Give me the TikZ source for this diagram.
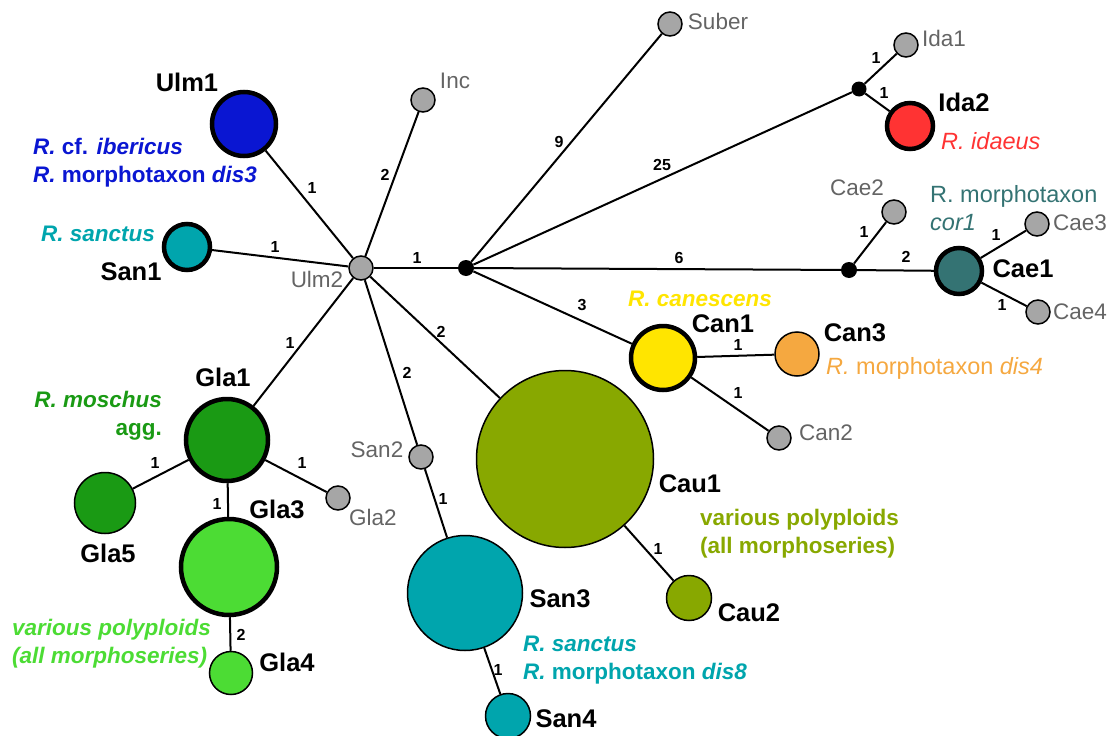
\documentclass[tikz,border=0pt]{standalone}
\usepackage{fontspec}
\setmainfont{Liberation Sans}
\usetikzlibrary{positioning}
\definecolor{ulmblue}{RGB}{10,22,210}
\definecolor{santeal}{RGB}{0,165,173}
\definecolor{idared}{RGB}{255,51,51}
\definecolor{caeteal}{RGB}{52,115,115}
\definecolor{canyellow}{RGB}{255,229,0}
\definecolor{canorange}{RGB}{245,168,64}
\definecolor{gladark}{RGB}{26,154,20}
\definecolor{glalight}{RGB}{76,220,52}
\definecolor{cauolive}{RGB}{136,168,0}
\definecolor{raregray}{RGB}{166,166,166}
\definecolor{labelgray}{RGB}{100,100,100}

\begin{document}
\begin{tikzpicture}[x=1pt,y=-1pt,inner sep=0pt]
\tikzstyle{hap}=[circle, draw=black, line width=1.5pt]
\tikzstyle{main}=[hap, line width=4.5pt]
\tikzstyle{rare}=[hap, fill=raregray, minimum size=24pt]
\tikzstyle{miss}=[circle, fill=black, minimum size=16pt]
\tikzstyle{connect}=[line width=2pt]
\tikzstyle{wt}=[font=\fontsize{16}{18}\selectfont\bfseries]
\tikzstyle{hname}=[anchor=base, font=\fontsize{25.5}{30}\selectfont\bfseries]
\tikzstyle{gname}=[anchor=base, text=labelgray, font=\fontsize{22.5}{27}\selectfont]
\tikzstyle{taxon}=[anchor=base west, align=left, font=\fontsize{22.5}{28}\selectfont\bfseries]
\tikzstyle{ltaxon}=[anchor=base west, align=left, font=\fontsize{23.5}{28}\selectfont]
\useasboundingbox (0,0) rectangle (1112,736);

\node[rare] (ulm2) at (361,268) {};
\node[main, fill=ulmblue, minimum size=64pt] (ulm1) at (244,124) {};
\node[main, fill=santeal, minimum size=46pt] (san1) at (187,247) {};
\node[rare] (inc) at (423,100) {};
\node[rare] (suber) at (670,24) {};
\node[miss] (h1) at (466,268) {};
\node[miss, minimum size=15pt] (h2) at (859,89) {};
\node[rare] (ida1) at (906,45) {};
\node[main, fill=idared, minimum size=46pt] (ida2) at (910,126) {};
\node[miss] (h3) at (849,270) {};
\node[rare] (cae2) at (894,212) {};
\node[main, fill=caeteal, minimum size=46pt] (cae1) at (959,271) {};
\node[rare] (cae3) at (1037,224) {};
\node[rare] (cae4) at (1038,312) {};
\node[main, fill=canyellow, minimum size=64pt] (can1) at (663,358) {};
\node[hap, fill=canorange, minimum size=44pt] (can3) at (797,354) {};
\node[rare] (can2) at (779,438) {};
\node[main, fill=gladark, minimum size=82pt] (gla1) at (227,440) {};
\node[hap, fill=gladark, minimum size=61pt] (gla5) at (105,503) {};
\node[rare] (gla2) at (338,498) {};
\node[main, fill=glalight, minimum size=96pt] (gla3) at (229,567) {};
\node[hap, fill=glalight, minimum size=43pt] (gla4) at (231,673) {};
\node[rare] (san2) at (421,457) {};
\node[hap, fill=santeal, minimum size=115pt] (san3) at (465,593) {};
\node[hap, fill=santeal, minimum size=45pt] (san4) at (508,716) {};
\node[hap, fill=cauolive, minimum size=177pt] (cau1) at (565,459) {};
\node[hap, fill=cauolive, minimum size=45pt] (cau2) at (689,598) {};

\path (ulm2) edge[connect] (ulm1) edge[connect] (san1) edge[connect] (inc)
  edge[connect] (h1) edge[connect] (gla1) edge[connect] (san2) edge[connect] (cau1);
\path (h1) edge[connect] (suber) edge[connect] (h2) edge[connect] (h3) edge[connect] (can1);
\path (h2) edge[connect] (ida1) edge[connect] (ida2);
\path (h3) edge[connect] (cae2) edge[connect] (cae1);
\path (cae1) edge[connect] (cae3) edge[connect] (cae4);
\path (can1) edge[connect] (can3) edge[connect] (can2);
\path (gla1) edge[connect] (gla5) edge[connect] (gla2) edge[connect] (gla3);
\path (gla3) edge[connect] (gla4);
\path (san2) edge[connect] (san3);
\path (san3) edge[connect] (san4);
\path (cau1) edge[connect] (cau2);

\node[wt] (w1) at (312,188) {1};
\node[wt] (w2) at (275,247) {1};
\node[wt] (w3) at (385,175) {2};
\node[wt] (w4) at (417,258) {1};
\node[wt] (w5) at (559,142) {9};
\node[wt] (w6) at (662,165) {25};
\node[wt] (w7) at (876,58) {1};
\node[wt] (w8) at (884,93) {1};
\node[wt] (w9) at (679,258) {6};
\node[wt] (w10) at (864,232) {1};
\node[wt] (w11) at (906,257) {2};
\node[wt] (w12) at (996,235) {1};
\node[wt] (w13) at (1002,305) {1};
\node[wt] (w14) at (582,305) {3};
\node[wt] (w15) at (738,345) {1};
\node[wt] (w16) at (738,393) {1};
\node[wt] (w17) at (290,343) {1};
\node[wt] (w18) at (155,463) {1};
\node[wt] (w19) at (302,463) {1};
\node[wt] (w20) at (217,504) {1};
\node[wt] (w21) at (241,635) {2};
\node[wt] (w22) at (441,332) {2};
\node[wt] (w23) at (407,373) {2};
\node[wt] (w24) at (443,499) {1};
\node[wt] (w25) at (658,549) {1};
\node[wt] (w26) at (498,670) {1};

\node[hname] (ulm1-l) at (187,91) {Ulm1};
\node[hname] (san1-l) at (131,280) {San1};
\node[hname] (gla1-l) at (223,386) {Gla1};
\node[hname] (gla5-l) at (108,562) {Gla5};
\node[hname] (gla3-l) at (277,518) {Gla3};
\node[hname] (gla4-l) at (287,671) {Gla4};
\node[hname] (san3-l) at (560,607) {San3};
\node[hname] (san4-l) at (566,727) {San4};
\node[hname] (cau1-l) at (690,492) {Cau1};
\node[hname] (cau2-l) at (749,621) {Cau2};
\node[hname] (can1-l) at (723,332) {Can1};
\node[hname] (can3-l) at (855,341) {Can3};
\node[hname] (ida2-l) at (964,111) {Ida2};
\node[hname] (cae1-l) at (1023,277) {Cae1};

\node[gname] (ulm2-l) at (317,287) {Ulm2};
\node[gname] (inc-l) at (455,88) {Inc};
\node[gname] (suber-l) at (718,29) {Suber};
\node[gname] (ida1-l) at (944,46) {Ida1};
\node[gname] (cae2-l) at (857,195) {Cae2};
\node[gname] (cae3-l) at (1080,230) {Cae3};
\node[gname] (cae4-l) at (1080,319) {Cae4};
\node[gname] (can2-l) at (826,440) {Can2};
\node[gname] (san2-l) at (377,457) {San2};
\node[gname] (gla2-l) at (373,525) {Gla2};

\node[taxon, text=ulmblue] (ulm-t) at (33,182)
  {\textit{R.} cf. \textit{ibericus}\\\textit{R.} morphotaxon \textit{dis3}};
\node[taxon, anchor=base, text=santeal] (san1-t) at (98,241) {\textit{R. sanctus}};
\node[taxon, anchor=base east, align=right, text=gladark] (gla-t) at (162,435)
  {\textit{R. moschus}\\agg.};
\node[taxon, text=glalight] (gla3-t) at (12,663)
  {\textit{various polyploids}\\\textit{(all morphoseries)}};
\node[taxon, text=cauolive] (cau-t) at (700,553)
  {various polyploids\\(all morphoseries)};
\node[taxon, text=santeal] (san3-t) at (523,679)
  {\textit{R. sanctus}\\\textit{R.} morphotaxon \textit{dis8}};
\node[taxon, anchor=base, text=canyellow] (can-t) at (700,306) {\textit{R. canescens}};
\node[ltaxon, text=canorange] (can3-t) at (826,374) {\textit{R.} morphotaxon \textit{dis4}};
\node[ltaxon, text=idared] (ida-t) at (941,149) {\textit{R. idaeus}};
\node[ltaxon, text=caeteal] (cae-t) at (930,230) {R. morphotaxon\\\textit{cor1}};
\end{tikzpicture}
\end{document}
